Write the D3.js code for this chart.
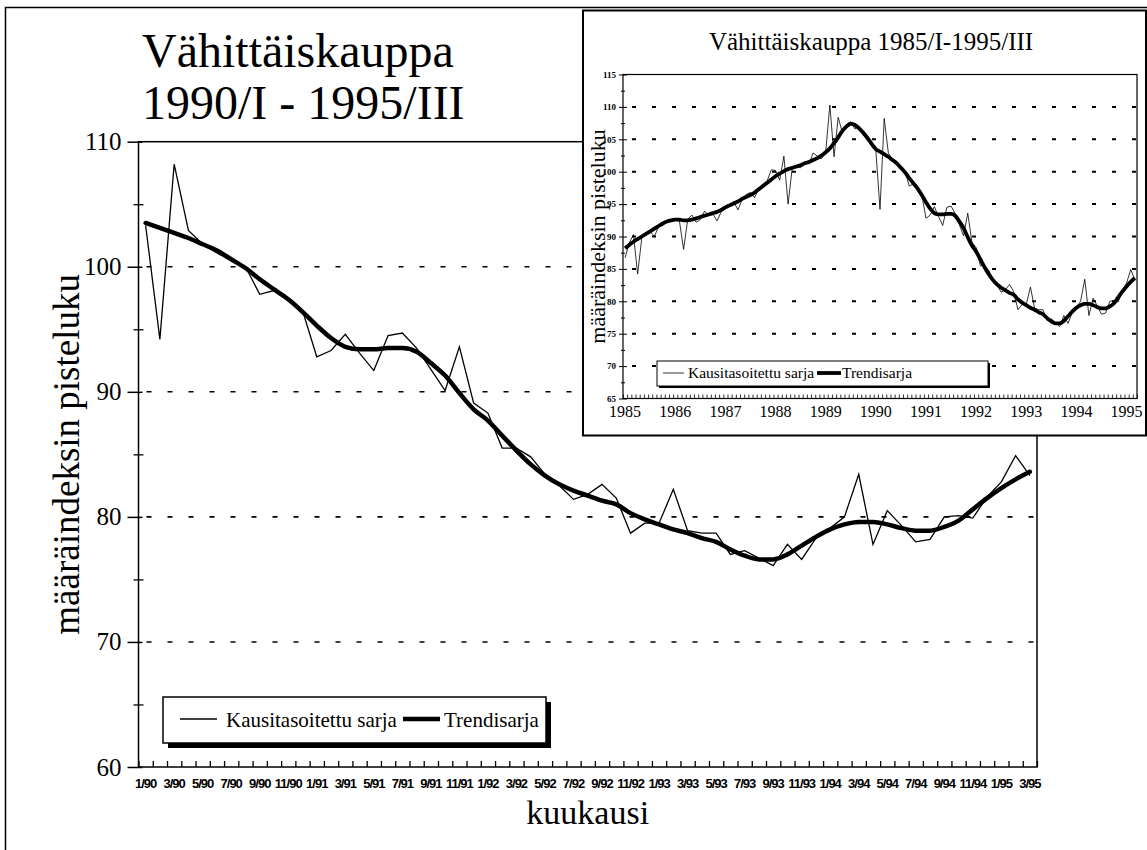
<!DOCTYPE html>
<html>
<head>
<meta charset="utf-8">
<script src="https://cdn.jsdelivr.net/npm/d3@7"></script>
<style>
  html, body { margin: 0; padding: 0; background: #fff; }
  svg { display: block; }
  text { fill: #000; }
</style>
</head>
<body>
<div id="chart"></div>
<script>
// month labels shown under the main chart (every second month)
const xTickLabels = [
  '1/90', '3/90', '5/90', '7/90', '9/90', '11/90',
  '1/91', '3/91', '5/91', '7/91', '9/91', '11/91',
  '1/92', '3/92', '5/92', '7/92', '9/92', '11/92',
  '1/93', '3/93', '5/93', '7/93', '9/93', '11/93',
  '1/94', '3/94', '5/94', '7/94', '9/94', '11/94',
  '1/95', '3/95',
]

// 1/1990 - 3/1995, monthly
const kausitasoitettu = [
  103.3, 94.2, 108.2, 102.9, 101.8, 101.1, 100.5, 100.0, 97.8, 98.1, 97.4, 96.5,
  92.8, 93.3, 94.6, 93.1, 91.7, 94.5, 94.7, 93.5, 91.8, 90.1, 93.6, 89.1,
  88.3, 85.5, 85.5, 84.8, 83.4, 82.5, 81.4, 81.8, 82.6, 81.5, 78.7, 79.5,
  79.5, 82.2, 78.9, 78.7, 78.7, 77.0, 77.3, 76.7, 76.1, 77.8, 76.6, 78.3,
  79.1, 80.0, 83.4, 77.8, 80.5, 79.3, 78.0, 78.2, 80.0, 80.1, 79.9, 81.6,
  82.8, 84.9, 83.3,
]
const trendisarja = [
  103.5, 103.1, 102.7, 102.3, 101.8, 101.3, 100.6, 99.9, 99.0, 98.2, 97.4, 96.4,
  95.3, 94.3, 93.6, 93.4, 93.4, 93.5, 93.5, 93.2, 92.3, 91.3, 89.9, 88.6,
  87.7, 86.5, 85.3, 84.2, 83.3, 82.6, 82.1, 81.7, 81.3, 81.0, 80.3, 79.8,
  79.4, 79.0, 78.7, 78.3, 78.0, 77.4, 76.9, 76.6, 76.6, 77.0, 77.7, 78.4,
  79.0, 79.4, 79.6, 79.6, 79.4, 79.1, 78.9, 78.9, 79.2, 79.7, 80.6, 81.5,
  82.3, 83.0, 83.6,
]

// 1/1985 - 12/1989, monthly (only in the small chart)
const kausitasoitettu8589 = [
  86.7, 89.0, 90.3, 84.2, 89.8, 90.4, 90.8, 90.0, 91.5, 91.7, 92.2, 92.6,
  92.6, 92.4, 88.0, 92.7, 93.3, 92.2, 92.6, 93.9, 93.4, 93.5, 92.4, 93.8,
  94.3, 94.9, 95.4, 94.1, 95.7, 96.5, 96.8, 96.0, 97.5, 97.9, 98.6, 100.3,
  100.2, 98.7, 102.4, 95.0, 100.6, 100.9, 100.6, 101.6, 101.2, 102.9, 102.4, 102.0,
  103.0, 110.3, 102.3, 108.4, 106.0, 107.3, 107.7, 106.6, 107.0, 105.6, 105.0, 104.0,
]
const trendisarja8589 = [
  88.2, 88.7, 89.2, 89.6, 90.0, 90.4, 90.8, 91.2, 91.6, 92.0, 92.3, 92.5,
  92.6, 92.6, 92.5, 92.5, 92.6, 92.8, 93.0, 93.2, 93.4, 93.6, 93.8, 94.1,
  94.5, 94.8, 95.1, 95.4, 95.8, 96.1, 96.4, 96.8, 97.3, 97.8, 98.3, 98.8,
  99.3, 99.7, 100.1, 100.4, 100.6, 100.8, 101.0, 101.3, 101.5, 101.8, 102.1, 102.5,
  103.0, 103.6, 104.4, 105.3, 106.3, 107.0, 107.4, 107.2, 106.7, 106.0, 105.2, 104.3,
]

const insetYears = ['1985', '1986', '1987', '1988', '1989', '1990', '1991', '1992', '1993', '1994', '1995']
const mainYTicks = [60, 70, 80, 90, 100, 110]
const mainYMinor = [65, 75, 85, 95, 105]
const mainGrid = [70, 80, 90, 100]
const insetYTicks = [65, 70, 75, 80, 85, 90, 95, 100, 105, 110, 115]
const insetYMinor = [67.5, 72.5, 77.5, 82.5, 87.5, 92.5, 97.5, 102.5, 107.5, 112.5]
const insetGrid = [70, 75, 80, 85, 90, 95, 100, 105, 110]
const legendLabels = ['Kausitasoitettu sarja', 'Trendisarja']

const serif = '"Liberation Serif", "Times New Roman", serif'
const width = 1147
const height = 850

const svg = d3.select('#chart')
  .append('svg')
  .attr('width', width)
  .attr('height', height)

// outer frame of the page
svg.append('path')
  .attr('d', `M5.5,${height} V7.5 H${width}`)
  .attr('fill', 'none')
  .attr('stroke', '#000')
  .attr('stroke-width', 1.5)

//
// main chart
//
const plot = { left: 138.5, right: 1037, top: 141.7, bottom: 767 }

const xBand = d3.scaleBand()
  .domain(d3.range(kausitasoitettu.length))
  .range([plot.left, plot.right])
const xEdge = d3.scaleLinear()
  .domain([0, kausitasoitettu.length])
  .range([plot.left, plot.right])
const yScale = d3.scaleLinear().domain([60, 110]).range([plot.bottom, plot.top])
const xMid = i => xBand(i) + xBand.bandwidth() / 2

// dashed gridlines
svg.append('g')
  .selectAll('line')
  .data(mainGrid)
  .join('line')
  .attr('x1', plot.left + 8)
  .attr('x2', plot.right)
  .attr('y1', d => yScale(d))
  .attr('y2', d => yScale(d))
  .attr('stroke', '#000')
  .attr('stroke-width', 1.6)
  .attr('stroke-dasharray', '5,16')

// plot frame
svg.append('rect')
  .attr('x', plot.left)
  .attr('y', plot.top)
  .attr('width', plot.right - plot.left)
  .attr('height', plot.bottom - plot.top)
  .attr('fill', 'none')
  .attr('stroke', '#000')
  .attr('stroke-width', 1.5)

// y axis, major ticks crossing the axis line
const yAxisG = svg.append('g')
  .attr('transform', `translate(${plot.left},0)`)
  .call(d3.axisLeft(yScale).tickValues(mainYTicks).tickSize(11).tickPadding(6))
yAxisG.select('.domain').remove()
yAxisG.selectAll('line').attr('x1', 4).attr('stroke-width', 1.5)
yAxisG.selectAll('text')
  .style('font-family', serif)
  .style('font-size', '25px')

const yMinorG = svg.append('g')
  .attr('transform', `translate(${plot.left},0)`)
  .call(d3.axisLeft(yScale).tickValues(mainYMinor).tickSize(5).tickFormat(''))
yMinorG.select('.domain').remove()
yMinorG.selectAll('line').attr('x1', 5).attr('stroke-width', 1.3)

// x axis: small ticks between months, labels every second month
const xTickG = svg.append('g')
  .attr('transform', `translate(0,${plot.bottom})`)
  .call(d3.axisBottom(xEdge).tickValues(d3.range(kausitasoitettu.length + 1)).tickSize(-6).tickFormat(''))
xTickG.select('.domain').remove()
xTickG.selectAll('line').attr('stroke-width', 1.3)

const xLabelG = svg.append('g')
  .attr('transform', `translate(0,${plot.bottom})`)
  .call(
    d3.axisBottom(xBand)
      .tickValues(d3.range(0, kausitasoitettu.length, 2))
      .tickSize(0)
      .tickPadding(12)
      .tickFormat(i => xTickLabels[i / 2])
  )
xLabelG.select('.domain').remove()
xLabelG.selectAll('text')
  .style('font-family', '"Liberation Sans", Arial, sans-serif')
  .style('font-weight', 'bold')
  .style('font-size', '13px')
  .style('letter-spacing', '-1px')

// series
const mainLine = d3.line().x((d, i) => xMid(i)).y(d => yScale(d))
svg.append('path')
  .datum(kausitasoitettu)
  .attr('d', mainLine)
  .attr('fill', 'none')
  .attr('stroke', '#000')
  .attr('stroke-width', 1.3)
svg.append('path')
  .datum(trendisarja)
  .attr('d', mainLine.curve(d3.curveMonotoneX))
  .attr('fill', 'none')
  .attr('stroke', '#000')
  .attr('stroke-width', 4.5)
  .attr('stroke-linecap', 'round')

// titles
const title = svg.append('text')
  .style('font-family', serif)
  .style('font-size', '48px')
title.append('tspan').attr('x', 142).attr('y', 67).text('Vähittäiskauppa')
title.append('tspan').attr('x', 142).attr('y', 119).text('1990/I - 1995/III')

svg.append('text')
  .attr('x', (plot.left + plot.right) / 2)
  .attr('y', 824)
  .attr('text-anchor', 'middle')
  .style('font-family', serif)
  .style('font-size', '34px')
  .text('kuukausi')

svg.append('text')
  .attr('transform', `translate(79,${(plot.top + plot.bottom) / 2}) rotate(-90)`)
  .attr('text-anchor', 'middle')
  .style('font-family', serif)
  .style('font-size', '37px')
  .text('määräindeksin pisteluku')

// legend with drop shadow
const legend = { x: 163, y: 697, w: 383, h: 46 }
svg.append('rect')
  .attr('x', legend.x + 5)
  .attr('y', legend.y + 5)
  .attr('width', legend.w)
  .attr('height', legend.h)
  .attr('fill', '#000')
svg.append('rect')
  .attr('x', legend.x)
  .attr('y', legend.y)
  .attr('width', legend.w)
  .attr('height', legend.h)
  .attr('fill', '#fff')
  .attr('stroke', '#000')
  .attr('stroke-width', 1.5)
const legendItems = [
  { x1: 180, x2: 217, tx: 226, sw: 1.3, label: legendLabels[0] },
  { x1: 403, x2: 440, tx: 444, sw: 4.5, label: legendLabels[1] },
]
legendItems.forEach(d => {
  svg.append('line')
    .attr('x1', d.x1).attr('x2', d.x2)
    .attr('y1', 719).attr('y2', 719)
    .attr('stroke', '#000')
    .attr('stroke-width', d.sw)
  svg.append('text')
    .attr('x', d.tx)
    .attr('y', 727)
    .style('font-family', serif)
    .style('font-size', '21px')
    .text(d.label)
})

//
// small chart 1985 - 1995
//
const inset = { x: 583, y: 10.5, w: 563, h: 425 }
svg.append('rect')
  .attr('x', inset.x)
  .attr('y', inset.y)
  .attr('width', inset.w)
  .attr('height', inset.h)
  .attr('fill', '#fff')
  .attr('stroke', '#000')
  .attr('stroke-width', 2)

const insetValues = kausitasoitettu8589.concat(kausitasoitettu)
const insetTrend = trendisarja8589.concat(trendisarja)
const iplot = { left: 623, right: 1137, top: 74.5, bottom: 398.5 }

const xBandIn = d3.scaleBand().domain(d3.range(insetValues.length)).range([iplot.left, iplot.right])
const xEdgeIn = d3.scaleLinear().domain([0, insetValues.length]).range([iplot.left, iplot.right])
const yIn = d3.scaleLinear().domain([65, 115]).range([iplot.bottom, iplot.top])
const xMidIn = i => xBandIn(i) + xBandIn.bandwidth() / 2

svg.append('g')
  .selectAll('line')
  .data(insetGrid)
  .join('line')
  .attr('x1', iplot.left + 9)
  .attr('x2', iplot.right)
  .attr('y1', d => yIn(d))
  .attr('y2', d => yIn(d))
  .attr('stroke', '#000')
  .attr('stroke-width', 2)
  .attr('stroke-dasharray', '4,16')

svg.append('rect')
  .attr('x', iplot.left)
  .attr('y', iplot.top)
  .attr('width', iplot.right - iplot.left)
  .attr('height', iplot.bottom - iplot.top)
  .attr('fill', 'none')
  .attr('stroke', '#000')
  .attr('stroke-width', 1.2)

const yInG = svg.append('g')
  .attr('transform', `translate(${iplot.left},0)`)
  .call(d3.axisLeft(yIn).tickValues(insetYTicks).tickSize(4).tickPadding(3))
yInG.select('.domain').remove()
yInG.selectAll('line').attr('x1', 4)
yInG.selectAll('text')
  .style('font-family', serif)
  .style('font-weight', 'bold')
  .style('font-size', '9px')

const yInMinor = svg.append('g')
  .attr('transform', `translate(${iplot.left},0)`)
  .call(d3.axisLeft(yIn).tickValues(insetYMinor).tickSize(2).tickFormat(''))
yInMinor.select('.domain').remove()
yInMinor.selectAll('line').attr('x1', 2)

const xInTicks = svg.append('g')
  .attr('transform', `translate(0,${iplot.bottom})`)
  .call(d3.axisBottom(xEdgeIn).tickValues(d3.range(insetValues.length + 1)).tickSize(-4).tickFormat(''))
xInTicks.select('.domain').remove()
xInTicks.selectAll('line').attr('stroke-width', 0.8)

const xInLabels = svg.append('g')
  .attr('transform', `translate(0,${iplot.bottom})`)
  .call(
    d3.axisBottom(xBandIn)
      .tickValues(d3.range(0, insetValues.length, 12))
      .tickSize(0)
      .tickPadding(7)
      .tickFormat(i => insetYears[i / 12])
  )
xInLabels.select('.domain').remove()
xInLabels.selectAll('text')
  .style('font-family', serif)
  .style('font-size', '16px')

const insetLine = d3.line().x((d, i) => xMidIn(i)).y(d => yIn(d))
svg.append('path')
  .datum(insetValues)
  .attr('d', insetLine)
  .attr('fill', 'none')
  .attr('stroke', '#000')
  .attr('stroke-width', 0.8)
svg.append('path')
  .datum(insetTrend)
  .attr('d', insetLine.curve(d3.curveMonotoneX))
  .attr('fill', 'none')
  .attr('stroke', '#000')
  .attr('stroke-width', 3.8)

svg.append('text')
  .attr('x', 871)
  .attr('y', 50)
  .attr('text-anchor', 'middle')
  .style('font-family', serif)
  .style('font-size', '25px')
  .text('Vähittäiskauppa 1985/I-1995/III')

svg.append('text')
  .attr('transform', `translate(605,${(iplot.top + iplot.bottom) / 2}) rotate(-90)`)
  .attr('text-anchor', 'middle')
  .style('font-family', serif)
  .style('font-size', '22px')
  .text('määräindeksin pisteluku')

// legend of the small chart
svg.append('rect')
  .attr('x', 659)
  .attr('y', 363)
  .attr('width', 331)
  .attr('height', 25)
  .attr('fill', '#000')
svg.append('rect')
  .attr('x', 657)
  .attr('y', 361)
  .attr('width', 331)
  .attr('height', 25)
  .attr('fill', '#fff')
  .attr('stroke', '#000')
  .attr('stroke-width', 1)
const insetLegendItems = [
  { x1: 663, x2: 684, tx: 688, sw: 0.8, label: legendLabels[0] },
  { x1: 817, x2: 841, tx: 842, sw: 3.8, label: legendLabels[1] },
]
insetLegendItems.forEach(d => {
  svg.append('line')
    .attr('x1', d.x1).attr('x2', d.x2)
    .attr('y1', 373).attr('y2', 373)
    .attr('stroke', '#000')
    .attr('stroke-width', d.sw)
  svg.append('text')
    .attr('x', d.tx)
    .attr('y', 378)
    .style('font-family', serif)
    .style('font-size', '15.5px')
    .text(d.label)
})
</script>
</body>
</html>
